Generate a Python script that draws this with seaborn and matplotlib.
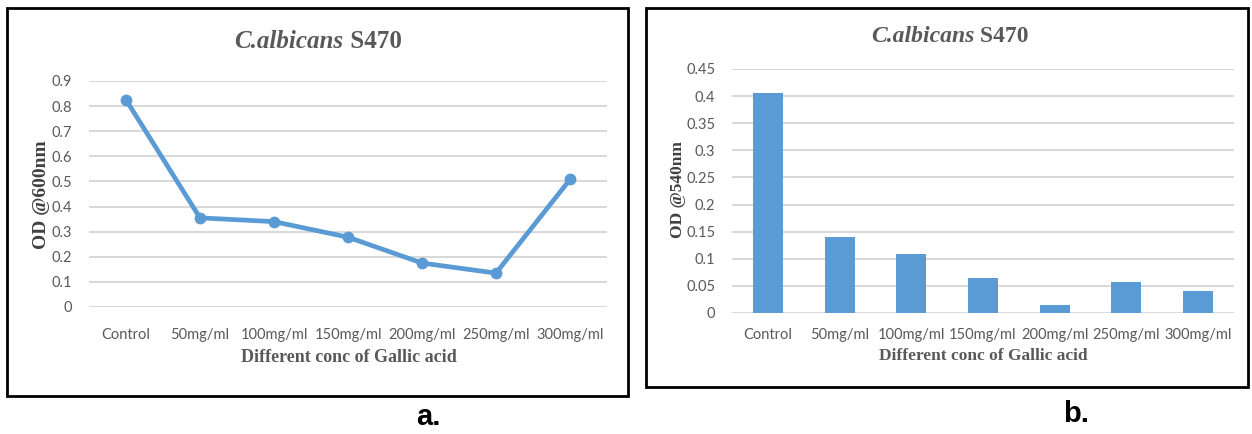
import matplotlib
matplotlib.use("Agg")
import matplotlib.pyplot as plt
import seaborn as sns
import pandas as pd
from matplotlib.patches import Rectangle

# data
concs = ["Control", "50mg/ml", "100mg/ml", "150mg/ml", "200mg/ml", "250mg/ml", "300mg/ml"]
od600 = [0.825, 0.355, 0.340, 0.278, 0.175, 0.135, 0.508]
od540 = [0.405, 0.140, 0.108, 0.065, 0.015, 0.058, 0.040]
ticks_a = [0, 0.1, 0.2, 0.3, 0.4, 0.5, 0.6, 0.7, 0.8, 0.9]
ticks_b = [0, 0.05, 0.1, 0.15, 0.2, 0.25, 0.3, 0.35, 0.4, 0.45]

BLUE = "#5B9BD5"
GRID = "#D9D9D9"
TXT = "#595959"
SERIF = "Liberation Serif"
SANS = "Lato"

sns.set_style("white")
plt.rcParams["font.family"] = ["DejaVu Sans"]

W, H = 1252, 434
fig = plt.figure(figsize=(W / 100, H / 100), dpi=100)


def fx(px):
    return px / W


def fy(py):
    return 1 - py / H


def style_axes(ax, ticks, fmt, pad):
    ax.set_yticks(ticks)
    ax.set_yticklabels([fmt(t) for t in ticks], family=SANS, fontsize=10.5, color=TXT)
    ax.set_xticklabels(ax.get_xticklabels(), family=SANS, fontsize=10.5, color=TXT)
    ax.tick_params(axis="both", length=0)
    ax.tick_params(axis="x", pad=pad)
    ax.tick_params(axis="y", pad=12)
    ax.grid(axis="y", color=GRID, lw=1.5)
    ax.set_axisbelow(True)
    for s in ax.spines.values():
        s.set_visible(False)
    ax.set_xlabel("")
    ax.set_ylabel("")


def fmt_a(t):
    return "0" if t == 0 else f"{t:g}"


# panel a: line chart
df_a = pd.DataFrame({"conc": concs, "od": od600})
ax1 = fig.add_axes([fx(89), fy(307), fx(607 - 89), (307 - 81) / H])
sns.lineplot(data=df_a, x="conc", y="od", ax=ax1, color=BLUE, lw=3.4,
             marker="o", markersize=8.5, markeredgewidth=0, sort=False)
ax1.set_xlim(-0.5, len(concs) - 0.5)
ax1.set_ylim(0, 0.9)
style_axes(ax1, ticks_a, fmt_a, 15)
for ln in ax1.lines:
    ln.set_clip_on(False)

# panel b: bar chart
df_b = pd.DataFrame({"conc": concs, "od": od540})
ax2 = fig.add_axes([fx(732), fy(313), fx(1234 - 732), (313 - 69) / H])
sns.barplot(data=df_b, x="conc", y="od", ax=ax2, color=BLUE, width=0.42,
            saturation=1, edgecolor="none")
ax2.set_xlim(-0.5, len(concs) - 0.5)
ax2.set_ylim(0, 0.45)
style_axes(ax2, ticks_b, fmt_a, 11)

# frames around each panel
fig.patches.append(Rectangle((fx(7), fy(396)), fx(628 - 7), (396 - 8) / H,
                             transform=fig.transFigure, fill=False, ec="black", lw=2))
fig.patches.append(Rectangle((fx(646), fy(387)), fx(1248 - 646), (387 - 8) / H,
                             transform=fig.transFigure, fill=False, ec="black", lw=2))

# axis labels
lab = dict(family=SERIF, fontweight="bold", color=TXT)
fig.text(fx(349), fy(358), "Different conc of Gallic acid", ha="center", va="center", fontsize=13, **lab)
fig.text(fx(983), fy(356), "Different conc of Gallic acid", ha="center", va="center", fontsize=12.5, **lab)
fig.text(fx(41), fy(195), "OD @600nm", rotation=90, ha="center", va="center", fontsize=14,
         family=SERIF, fontweight="bold", color="#404040")
fig.text(fx(678), fy(190), "OD @540nm", rotation=90, ha="center", va="center", fontsize=12.5,
         family=SERIF, fontweight="bold", color="#404040")

# titles: italic species name + upright strain, centred as a pair
titles = []
for cx, cy, size in [(318, 42, 18), (950, 36, 17)]:
    t1 = fig.text(0, fy(cy), "C.albicans", ha="left", va="center", fontsize=size,
                  family=SERIF, fontweight="bold", style="italic", color=TXT)
    t2 = fig.text(0, fy(cy), " S470", ha="left", va="center", fontsize=size,
                  family=SERIF, fontweight="bold", color=TXT)
    titles.append((cx, t1, t2))

fig.canvas.draw()
r = fig.canvas.get_renderer()
for cx, t1, t2 in titles:
    w1 = t1.get_window_extent(r).width
    w2 = t2.get_window_extent(r).width
    x0 = cx - (w1 + w2) / 2
    t1.set_x(fx(x0))
    t2.set_x(fx(x0 + w1))

# panel letters
fig.text(fx(428), fy(417), "a.", ha="center", va="center", fontsize=21,
         family="Liberation Sans", fontweight="bold", color="black")
fig.text(fx(1076), fy(414), "b.", ha="center", va="center", fontsize=21,
         family="Liberation Sans", fontweight="bold", color="black")

fig.savefig("out.png", dpi=100)
